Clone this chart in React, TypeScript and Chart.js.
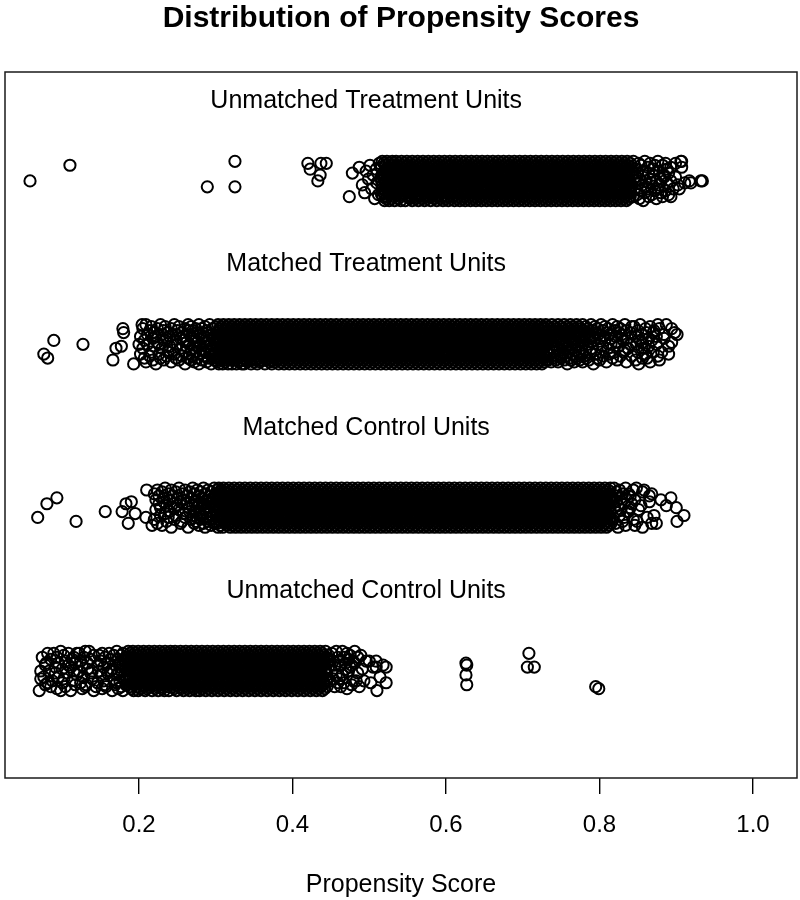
import React, { useEffect, useRef } from "react";
import { Chart, registerables } from "chart.js";

Chart.register(...registerables);

const FONT = "'Liberation Sans', Arial, Helvetica, sans-serif";

const chartTitle = "Distribution of Propensity Scores";
const xAxisTitle = "Propensity Score";
const groupNames = [
  "Unmatched Treatment Units",
  "Matched Treatment Units",
  "Matched Control Units",
  "Unmatched Control Units",
];
const groupLevels = [4, 3, 2, 1];
const xTickValues = [0.2, 0.4, 0.6, 0.8, 1.0];
const xTickLabels = ["0.2", "0.4", "0.6", "0.8", "1.0"];

// Each group: 3-digit propensity score (thousandths) followed by one letter per unit
// at that score; the letter is the vertical jitter slot (a = top ... k = centre ... u = bottom).
const unmatchedTreatment = `
058k 110c 289n 325an 420b 423e 433k 436h 437b 444b 474s 478g 487d 491m 494q 496f 499j 501c
503o 505h 507t 509e 510l 512r 513b 515i
516dkr 517aho 518gms 519bjq 520fhu 521clp 522ent 523ais 524gkq 525djo 526bmu 527fhr 528cip
529ekt 530anq 531glo 532bhs 533dju 534fmp 535aiq 536ckr 537elo 538gjt 539bnp 540dhs 541fku
542aio 543cmr 544ejq 545gil 546bhp 547dnu 548fko 549ajs 550cmq 551ehr 552gio 553bkt 554dls
555fjp 556anu 557chq 558eko 559gms 560bir 561djt 562flp 563ahq 564cku 565eno 566gis 567bjr
568dmp 569fht 570alo 571ckq 572eiu 573gns 574bhp 575djr 576fmt 577alo 578cis 579ekq 580gnu
581bho 582djs 583fmr 584akp 585cit 586elq 587gho 588bnu 589dks 590fjr 591amp 592cio 593eht
594glq 595bks 596dnu 597fjo 598air 599cmp 600ekt 601ghq 602bls 603dju 604fno 605akr 606cip
607emt 608ghq 609bjs 610dlo 611fiu 612anr 613ckp 614eht 615gmq 616bis 617djo 618flu 619ahr
620cnp 621ekt 622giq 623bms 624dho 625fju 626alr 627ckp 628eit 629gnq 630bhs 631dlo 632fju
633amr 634cip 635ekt 636ghq 637bns 638djo 639flu 640air 641cmp 642eht 643gkq 644bjs 645dno
646fiu 647alr 648chp 649ekt 650gmq 651bis 652djo 653fnu 654ahr 655ckp 656elt 657giq 658bms
659dho 660fju 661anr 662ckp 663eit 664ghq 665bls 666djo 667fmu 668air 669cnp 670ekt 671ghq
672bjs 673dlo 674fiu 675amr 676chp 677ekt 678gnq 679bis 680djo 681flu 682ahr 683cmp 684ejt
685gkq 686bns 687dio 688fhu 689alr 690cjp 691emt 692gkq 693bis 694dno 695flu 696ahr 697ckp
698ejt 699gmq 700bis 701dlo 702fhu 703anr 704cjp 705ekt 706gmq 707bis 708dho 709flu 710ajr
711ckp 712emt 713gkq 714bns 715dio 716fhu 717alr 718cjp 719ekt 720giq 721bms 722dho 723fnu
724akr 725cip 726ejt 727gmq 728bhs 729dlo 730fiu 731anr 732ckp 733emt 734ghq 735bjs 736dno
737flu 738air 739cmp 740eht 741gkq 742bls 743djo 744fiu 745amr 746cnp 747ekt 748ghq 749bis
750djo 751fmu 752ahr 753ckp 754elt 755gnq 756bis 757dho 758fju 759alr 760cmp 761eit 762gkq
763bns 764djo 765flu 766ahr 767cip 768emt 769gjq 770bls 771dno 772fhu 773akr 774cjp 775eit
776gmq 777bhs 778dlo 779fnu 780air 781ckp 782ejt 783ghq 784bms 785dio 786flu 787anr 788chp
789ekt 790gjq 791bis 792dmo 793fhu 794alr 795cnp 796ekt 797giq 798bjs 799dho 800flu 801amr
802ckp 803eit 804gnq 805bls 806djo 807fhu 808akr 809cmp 810ejt 811ghq 812bis 813dno 814flu
815ajr 816ckp 817emt 818gkq 819bhs 820dlo 821fiu 822anr 823cjp 824ekt 825gmq 826bis 827dho
828fnu 829alr 830ckp 831eit 832ghq 833bjs 834dmo 835flu 836ahr 837cip 838ekt 839gnq 840bls
841dq 842hm 844as 846ko 847ei 849gr 851bl 852jt 854cp 856fm 857hu 859aq 861kn 863do 864gs
866bj 868lr 870eh 872cp 874kt 876ao 878fm 880jq 882cs 884hi 886bp 888el 890gr 893kds 896o
899bi 902m 904o 906a 907ad 911l 917k 919l 932k 934k
`;

const matchedTreatment = `
076p 081r 089i 127k 166s 170m 177l 179c 180e 193u 200k 204a
202gp 205cm 207ir 209at 211fk 214dq 216bo 218hs 220el 222gu 224cj 226kp 228ar 230fm 232ds
234bi 236hq 238eo 240gl 242ct 244jn 246ap 248fr 250dk 252bs 254hm 256eq 258gi 260cou 262jl
264adr 266fkp 268bns 270dhq 272gmt 274cio 276ejr 278alu 280fkp 282chs 284gnq 286bjo 288dlt
290eir 292akp 294fmu 296chq 298gjs
300bkp 301eir 302gmt 303ajq 304dnu 305fho 306cls 307bir 308ekp 309gmu 310ajq 311dho 312fnt
313clr 314bis 315ekp 316gju 317amq 318dhr 319fno 320cks 321biu 322ejp 323gmr 324alq 325dio
326fns 327chu 328bkp 329ejr 330gmt 331aiq 332dlo 333fhs 334cnu 335bkp 336eir 337gju 338ahq
339dlo 340fms 341cit 342bnp 343ekr 344gho 345ajs 346dmu 347fiq 348clo 349bhr 350ejt 351gnp
352aks 353dio 354fmu 355chq 356bjo 357elr 358git 359anp 360dks 361fhq 362cmo 363bir 364eju
365gnp 366ahs 367dlq 368fko 369cir 370bmt 371ehp 372gjs 373anu 374dkq 375flo 376cir 377bht
378emp 379gjq 380ais 381dno 382fku 383clr 384bhp 385eit 386gmq 387ajs 388dlo 389fhu 390cnr
391bkp 392eit 393gjq 394ams 395dho 396fku 397clr 398bnp 399eit 400ghq 401ajs 402dmo 403fku
404clr 405bhp 406ent 407giq 408ajs 409dko 410fmu 411chr 412blp 413eit 414gnq 415ajs 416dho
417fku 418cmr 419blp 420eit 421ghq 422ans 423djo 424fku 425cmr 426bhp 427elt 428giq 429ajs
430dno 431fku 432chr 433bmp 434eit 435glq 436ajs 437dho 438fnu 439ckr 440bip 441emt 442ghq
443ajs 444dlo 445fiu 446cnr 447bkp 448ejt 449ghq 450ams 451dio 452flu 453chr 454bnp 455ekt
456giq 457ajs 458dmo 459fhu 460clr 461bip 462ent 463gkq 464ahs 465djo 466fmu 467cir 468bhp
469elt 470gnq 471ajs 472dko 473fiu 474cmr 475bhp 476ejt 477glq 478ans 479dio 480fku 481chr
482bmp 483ejt 484giq 485als 486dno 487fhu 488ckr 489bip 490emt 491gjq 492ahs 493dlo 494fnu
495cir 496bkp 497ejt 498gmq 499ais 500dho 501flu 502cnr 503bjp 504ekt 505ghq 506ams 507dio
508flu 509chr 510bnp 511ejt 512gkq 513ais 514dmo 515fhu 516clr 517bjp 518ent 519gkq 520ahs
521dio 522fmu 523cjr 524blp 525eht 526giq 527ans 528dko 529fju 530cmr 531bhp 532elt 533giq
534ajs 535dno 536fku 537chr 538bmp 539eit 540glq 541ajs 542dho 543fnu 544ckr 545bip 546emt
547ghq 548als 549dio 550fku 551cnr 552bhp 553ejt 554gmq 555ais 556dlo 557fhu 558ckr 559bjp
560eit 561ghq 562ans 563dko 564fmu 565cir 566blp 567eht 568gjq 569ams 570dno 571fhu 572clr
573bkp 574eit 575gnq 576ajs 577dho 578fmu 579cir 580bhp 581elt 582gkq 583ans 584djo 585fiu
586cmr 587bkp 588ent 589giq 590ahs 591dlo 592fju 593ckr 594bmp 595eit 596glq 597ans 598dho
599fku 600cjr 601bhp 602elt 603gnq 604ais 605dko 606fmu 607chr 608bjp 609ekt 610giq 611als
612dno 613fhu 614cmr 615bip 616ejt 617gkq 618ahs 619dlo 620fnu 621cir 622bkp 623emt 624ghq
625ajs 626dio 627flu 628cnr 629bhp 630ejt 631gmq 632aks 633dho 634fiu 635clr 636bnp 637ekt
638gjq 639ams 640dio 641fhu 642ckr 643blp 644ejt 645gnq 646ais 647dmo 648fku 649chr 650bjp
651elt 652giq 653ans 654dko 655fmu 656cir 657bhp 658ejt 659gkq 660als 661dno 662fiu 663cmr
664bkp 665eht 666gjq 667ais 668dlo 669fnu 670chr 671bmp 672ekt 673giq 674ajs 675dho 676flu
677cnr 678bip 679emt 680ghq 681aks 682djo 683fhu 684clr 685bnp 686eit 687gmq 688ahs 689dko
690fju 691cir 692blp 693ejt 694gnq 695ams 696dio 697fku 698chr 699bjp 700elt 701gkq 702ais
703dmo 704fhu 705ckr 706bip 707ent 708giq 709als 710dho 711fnu 712cjr 713bkp 714emt 715ghq
716ajs 717dlo 718fiu 719cmr 720bhp 721ekt 722gjq 723ans 724dio 725flu 726chr 727bmp 728ejt
729glq 730ais
731dk 732fo 733bs 734gi 735cp 736eh 737jt 738am 739dr 740gk 741bo 742ei 743cs 744fm 745hq
746at 747dj 748gn 749bp 750er 751ch 752fk 753io 754as 755gm 756dq 757bj 758eu 759cl 760fo
761hr 762ak 763gs 764dm 765bi 766ep 767ct 768fj 769hn 770aq 771dr 772gk 773bo 774es 775ch
776fm 777jp 778at 779di 780gq 782bn 783er 785ck 786fs 788ho 789aj 791dm 792gu 794bi 795ep
797cr 798fk 800hs 802ao 804dl 805gq 807bi 809et 811cm 813fp 815hk 817ar 819do 821gj 823bs
825el 827cq 829fh 831io 833an 835dt
837hm 840ek 842bq 845b 847gs 848k 850do 851u 853ai 855fm 856jr 858m 860cp 861e 862r 864hl
866bt 868i 870eo 871d 874gk 876aq 878cs 881o 884fh 887a 890lp 894cj 898e 901f
`;

const matchedControl = `
068p 080i 093f 118r 156m 178m 183i 186s 190h 195n 209p 210b 217t
220dq 222gl 224bs 226ei 228ko 230ct 232fh 234an 236jr 238dp 240gm 242bu 244ei 246kq 248co
250fj 252al 254hs 256dr 258gn 260bp 262ei 264ku 266cm 268fq 270ajo 272dhs 274gmr 276bkp
278eit 280cnq 282fjo 284ahs 286dlu 288gkp 290bir 292emq 294cht 296fjo 298als
300dkr 301gio 302bms 303ehu 304ajq 305clp 306fkt 307bir 308dno 309gju 310ahq 311emp 312cks
313fir 314bno 315dlt 316ghq 317ajp 318ems 319cku 320fir 321blo 322dht 323gnq 324aip 325ejs
326cmu 327fkr 328bho 329dlt 330giq 331anp 332eks 333cju 334fmr 335bio 336dht 337glq 338akp
339ens 340chu 341fjr 342bmo 343dit 344gkq 345ahp 346els 347cnu 348fir 349bjo 350dmt 351ghq
352akp 353eis 354clu 355fnr 356bho 357djt 358gmq 359aip 360eks 361cnu 362fhr 363blo 364dit
365gjq 366amp 367ehs 368cku 369fnr 370bio 371dlt 372ghq 373ajp 374ems 375ciu 376fkr 377bno
378dht 379glq 380aip 381ejs 382cmu 383fhr 384bko 385dnt 386giq 387alp 388ehs 389cju 390fmr
391bio 392dkt 393gnq 394ahp 395els 396ciu 397fjr 398bmo 399dht 400gkq 401anp 402eis 403clu
404fhr 405bjo 406dmt 407giq 408akp 409ens 410chu 411flr 412bio 413djt 414gmq 415ahp 416eks
417cnu 418fir 419blo 420dht 421gjq 422amp 423eis 424cku 425fnr 426bho 427dlt 428giq 429ajp
430ems 431chu 432fkr 433bno 434dit 435glq 436ahp 437ejs 438cmu 439fir 440bko 441dnt 442ghq
443alp 444eis 445cju 446fmr 447bho 448dkt 449gnq 450aip 451els 452chu 453fjr 454bmo 455dit
456gkq 457anp 458ehs 459clu 460fir 461bjo 462dmt 463ghq 464akp 465ens 466ciu 467flr 468bho
469djt 470gmq 471aip 472eks 473cnu 474fhr 475blo 476dit 477gjq 478amp 479ehs 480cku 481fnr
482bio 483dlt 484ghq 485ajp 486ems 487ciu 488fkr 489bno 490dht 491glq 492aip 493ejs 494cmu
495fhr 496bko 497dnt 498giq 499alp 500ehs 501cju 502fmr 503bio 504dkt 505gnq 506ahp 507els
508ciu 509fjr 510bmo 511dht 512gkq 513anp 514eis 515clu 516fhr 517bjo 518dmt 519giq 520akp
521ens 522chu 523flr 524bio 525djt 526gmq 527ahp 528eks 529cnu 530fir 531blo 532dht 533gjq
534amp 535eis 536cku 537fnr 538bho 539dlt 540giq 541ajp 542ems 543chu 544fkr 545bno 546dit
547glq 548ahp 549ejs 550cmu 551fir 552bko 553dnt 554ghq 555alp 556eis 557cju 558fmr 559bho
560dkt 561gnq 562aip 563els 564chu 565fjr 566bmo 567dit 568gkq 569anp 570ehs 571clu 572fir
573bjo 574dmt 575ghq 576akp 577ens 578ciu 579flr 580bho 581djt 582gmq 583aip 584eks 585cnu
586fhr 587blo 588dit 589gjq 590amp 591ehs 592cku 593fnr 594bio 595dlt 596ghq 597ajp 598ems
599ciu 600fkr 601bno 602dht 603glq 604aip 605ejs 606cmu 607fhr 608bko 609dnt 610giq 611alp
612ehs 613cju 614fmr 615bio 616dkt 617gnq 618ahp 619els 620ciu 621fjr 622bmo 623dht 624gkq
625anp 626eis 627clu 628fhr 629bjo 630dmt 631giq 632akp 633ens 634chu 635flr 636bio 637djt
638gmq 639ahp 640eks 641cnu 642fir 643blo 644dht 645gjq 646amp 647eis 648cku 649fnr 650bho
651dlt 652giq 653ajp 654ems 655chu 656fkr 657bno 658dit 659glq 660ahp 661ejs 662cmu 663fir
664bko 665dnt 666ghq 667alp 668eis 669cju 670fmr 671bho 672dkt 673gnq 674aip 675els 676chu
677fjr 678bmo 679dit 680gkq 681anp 682ehs 683clu 684fir 685bjo 686dmt 687ghq 688akp 689ens
690ciu 691flr 692bho 693djt 694gmq 695aip 696eks 697cnu 698fhr 699blo 700dit 701gjq 702amp
703ehs 704cku 705fnr 706bio 707dlt 708ghq 709ajp 710ems 711ciu 712fkr 713bno 714dht 715glq
716aip 717ejs 718cmu 719fhr 720bko 721dnt 722giq 723alp 724ehs 725cju 726fmr 727bio 728dkt
729gnq 730ahp 731els 732ciu 733fjr 734bmo 735dht 736gkq 737anp 738eis 739clu 740fhr 741bjo
742dmt 743giq 744akp 745ens 746chu 747flr 748bio 749djt 750gmq 751ahp 752eks 753cnu 754fir
755blo 756dht 757gjq 758amp 759eis 760cku 761fnr 762bho 763dlt 764giq 765ajp 766ems 767chu
768fkr 769bno 770dit 771glq 772ahp 773ejs 774cmu 775fir 776bko 777dnt 778ghq 779alp 780eis
781cju 782fmr 783bho 784dkt 785gnq 786aip 787els 788chu 789fjr 790bmo 791dit 792gkq 793anp
794ehs 795clu 796fir 797bjo 798dmt 799ghq 800akp 801ens 802ciu 803flr 804bho 805djt 806gmq
807aip 808eks 809cnu 810fhr 811blo 812dit 813gjq 814amp 815ehs
817gq 819ak 821es 822ch 824ju 826bo 828fl 830dr 832ip 834at 836gm 838dm 840ek 842i 844bq
846gt 848a 849r 851l 854j 856cu 858b 862p 865eh 868ds 871o 874s 880g 887j 893f 900k 901r
910o
`;

const unmatchedControl = `
070u 072ko 074d 076n 078hr 079g 081bq 083k 085es 087p 089b 091il 093dt 095gn 098au 100jq
102co 104fs 106l 108bh 111iu 113ep 115dk 117gr 119bm 122bk 124fq 126ht 128dn 130as 131r
133gj 135a 137el 139ko 141cu 144s 146hq 148ck 150fm 152bt 154ip 156dr 157s 159gl 161b
163ek 165ju 167co 169hr
171amq 173elt 175gip 177cks 179bhu 181fmo 183djr
185dkr 186ahp 187gm 188bjs 189eio 190ct 191fkq 192adn 193hu 194glr 195bip 196ek 197cms 198fjo
199ahu 200dlq 201gn 202bkt 203eip 204cr 205fhm 206ajs 207dko 208gu 209bmq 210eht 211cl 212fip
213ajr 214dns 215gk 216bho 217elu 218cjq 219fm 220akp 221dit 222gr 223bns 224ejo 225chu 226flq
227ak 228dmp 229gis 230bt 231ejr 232cko 233fnu 234ahq 235dl 236gjp 237bms 238eio 239cu 240fkr
241adn 242ghq 243bl 244eip 245cjs 246fmt 247ako 248dr 249ghu 250bnq 251ei 252ckp 253fls 254ajo
255dt 256gmr 257bhq 258elu 259cj 260fnp 261aks 262dio 263gt 264bmr 265ehq 266clu 267fj 268akp
269dns 270gio 271bt 272emr 273chq 274flu 275aj 276dkp 277gms 278bio 279eu 280cnr 281fhq 282alt
283dj 284gkp 285bns 286eio 287cu 288fmr 289ahq 290dlt 291gj 292bkp 293ens 294cio 295fu 296amr
297dhq 298glt 299bj 300ekp 301cms 302fio 303au 304dnr 305ghq 306blt 307ej 308ckp 309fms 310aio
311du 312gnr 313bhq 314elt 315cj 316fkp 317ams 318dio 319gu 320bnr 321ehq 322clt 323fj 324akp
325dms 326gio 327bu 328enr 329chq 330flt 331aj 332dkp 333gms 334bio 335eu 336cnr 337fhq 338alt
339dj 340gkp 341bns 342eio 343cu 344fmr 345ahq 346dlt 347gj 348bkp 349ens 350cio 351fu 352amr
353dhq 354glt 355bj 356ekp 357cms 358fio 359au 360dnr 361ghq 362blt 363ej 364ckp 365fms 366aio
367du 368gnr 369bhq 370elt 371cj 372fkp 373ams 374dio 375gu 376bnr 377ehq 378clt 379fj 380akp
381dms 382gio 383bu 384enr 385chq 386flt 387aj 388dkp 389gms 390bio 391eu 392cnr 393fhq 394alt
395dj 396gkp 397bns 398eio 399cu 400fmr 401ahq 402dlt 403gj 404bkp 405ens 406cio 407fu 408amr
409dhq 410glt 411bj 412ekp 413cms 414fio 415au 416dnr 417ghq 418blt 419ej 420ckp 421fms 422aio
423du 424gnr 425bhq 426elt 427cj 428fkp 429ams 430dio 431gu 432bnr 433ehq 434clt 435fj 436akp
437dms 438gio 439bu 440enr 441chq 442flt 443aj 444dkp 445gms
447ci 449ep 451bk 453fo 455hs 457am 459dq
461fo 463hs 465am 467dq 469gj 471bt 473ek 475ci 477hr 479fp 481ag 483p 485dl 487s 489c
491j 493p 496f 500f 502q 505i 509fi 510u 514n 518h 522iq
626gm 627hr 706i 708b 715i 795s 799t
`;

const groupData = [unmatchedTreatment, matchedTreatment, matchedControl, unmatchedControl];

const JITTER_STEP = 0.012;

function decodeGroup(raw: string, level: number) {
  const pts: { x: number; y: number }[] = [];
  const re = /(\d{3})([a-u]+)/g;
  let m: RegExpExecArray | null;
  while ((m = re.exec(raw))) {
    const x = parseInt(m[1], 10) / 1000;
    for (const ch of m[2]) {
      const slot = ch.charCodeAt(0) - 107;
      pts.push({ x, y: level - slot * JITTER_STEP });
    }
  }
  return pts;
}

const framePlugin = {
  id: "rFrame",
  afterDraw(chart: any) {
    const { ctx, chartArea, scales } = chart;
    const { left, right, top, bottom } = chartArea;
    ctx.save();
    ctx.strokeStyle = "#1a1a1a";
    ctx.lineWidth = 1.5;
    ctx.strokeRect(left, top, right - left, bottom - top);

    ctx.fillStyle = "#000";
    ctx.textAlign = "center";
    ctx.textBaseline = "alphabetic";
    ctx.font = `bold 30px ${FONT}`;
    ctx.fillText(chartTitle, (left + right) / 2, 27);

    ctx.font = `25px ${FONT}`;
    ctx.textBaseline = "middle";
    const xs = scales.x;
    const ys = scales.y;
    groupNames.forEach((name, i) => {
      ctx.fillText(name, xs.getPixelForValue(0.496), ys.getPixelForValue(groupLevels[i] + 0.49));
    });
    ctx.restore();
  },
};

export default function App() {
  const ref = useRef<HTMLCanvasElement | null>(null);

  useEffect(() => {
    if (!ref.current) return;
    Chart.defaults.font.family = FONT;
    const chart = new Chart(ref.current, {
      type: "scatter",
      data: {
        datasets: groupData.map((raw, i) => ({
          label: groupNames[i],
          data: decodeGroup(raw, groupLevels[i]),
          pointStyle: "circle",
          pointRadius: 5.6,
          pointBorderWidth: 2,
          pointBackgroundColor: "rgba(0,0,0,0)",
          pointBorderColor: "#000",
          showLine: false,
        })),
      },
      options: {
        animation: false,
        responsive: false,
        devicePixelRatio: 1,
        events: [],
        layout: { autoPadding: false, padding: { top: 72, left: 5, right: 3, bottom: 0 } },
        plugins: {
          legend: { display: false },
          tooltip: { enabled: false },
          title: { display: false },
        },
        scales: {
          x: {
            type: "linear",
            min: 0.0254,
            max: 1.0573,
            afterBuildTicks: (s: any) => {
              s.ticks = xTickValues.map((v) => ({ value: v }));
            },
            afterFit: (s: any) => {
              s.height = 122;
            },
            grid: {
              display: true,
              drawOnChartArea: false,
              drawTicks: true,
              tickLength: 16,
              color: "#000",
              lineWidth: 1.4,
            },
            border: { display: false },
            ticks: {
              color: "#000",
              font: { family: FONT, size: 24 },
              padding: 17,
              maxRotation: 0,
              autoSkip: false,
              callback: (_v: any, idx: number) => xTickLabels[idx],
            },
            title: {
              display: true,
              text: xAxisTitle,
              color: "#000",
              font: { family: FONT, size: 25 },
              padding: { top: 0, bottom: 0 },
            },
          },
          y: { display: false, min: 0.345, max: 4.667 },
        },
      },
      plugins: [framePlugin],
    });
    return () => chart.destroy();
  }, []);

  return (
    <div style={{ position: "fixed", left: 0, top: 0, width: 800, height: 900, background: "#fff" }}>
      <canvas ref={ref} width={800} height={900} style={{ display: "block", width: 800, height: 900 }} />
    </div>
  );
}
